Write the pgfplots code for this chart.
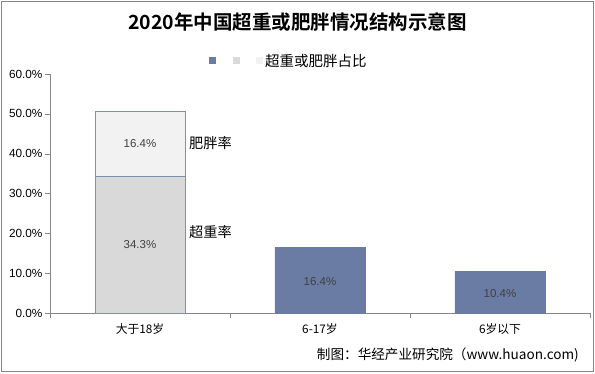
\documentclass[border=0pt]{standalone}
\usepackage{fontspec}
\setmainfont{Liberation Sans}
\newfontfamily\cjk{Noto Sans CJK SC}
\newfontfamily\cjkb{Noto Sans CJK SC Bold}
\usepackage{pgfplots}
\pgfplotsset{compat=1.18}
\definecolor{barblue}{HTML}{6A7CA3}
\definecolor{bargrey}{HTML}{D9D9D9}
\definecolor{barlight}{HTML}{F2F2F2}
\definecolor{edge}{HTML}{7F8FAE}
\definecolor{axisgrey}{HTML}{868686}
\definecolor{labgrey}{HTML}{404040}
\begin{document}
\begin{tikzpicture}[x=1pt,y=1pt]
\useasboundingbox (0,0) rectangle (595,373);
\draw[axisgrey, line width=0.8pt] (1.5,1.5) rectangle (593.5,371.5);
\begin{axis}[
  at={(50pt,60pt)}, anchor=south west,
  scale only axis, width=540pt, height=239pt,
  xmin=-0.5, xmax=2.5, ymin=0, ymax=60,
  axis lines=left, axis line style={axisgrey, -},
  xtick={0,1,2},
  xticklabels={大于18岁,6-17岁,6岁以下},
  x tick label style={font=\cjk\fontsize{11.8}{13}\selectfont, text=black, yshift=-2pt},
  major x tick style={draw=none},
  minor xtick={-0.5,0.5,1.5,2.5},
  minor x tick style={axisgrey},
  minor tick length=5pt,
  ytick={0,10,20,30,40,50,60},
  y tick style={axisgrey},
  major tick length=5pt,
  tick align=outside,
  yticklabel={\pgfmathprintnumber[fixed,fixed zerofill,precision=1]{\tick}\%},
  y tick label style={font=\fontsize{11.8}{13}\selectfont, text=black, /pgf/number format/assume math mode=true, xshift=1pt},
  ybar, bar shift=0pt, bar width=90pt,
  clip=false,
]
\addplot[fill=barlight, draw=edge] coordinates {(0,50.7)};
\addplot[fill=bargrey, draw=edge] coordinates {(0,34.3)};
\addplot[fill=barblue, draw=barblue] coordinates {(1,16.4) (2,10.4)};
\node[font=\fontsize{11.5}{13}\selectfont, text=labgrey] at (axis cs:0,42.5) {16.4\%};
\node[font=\fontsize{11.5}{13}\selectfont, text=labgrey] at (axis cs:0,17.1) {34.3\%};
\node[font=\fontsize{11.5}{13}\selectfont, text=labgrey] at (axis cs:1,8.0) {16.4\%};
\node[font=\fontsize{11.5}{13}\selectfont, text=labgrey] at (axis cs:2,5.0) {10.4\%};
\node[font=\cjk\fontsize{14.2}{15}\selectfont, anchor=west, inner sep=0pt] at (axis cs:0.272,42.7) {肥胖率};
\node[font=\cjk\fontsize{14.2}{15}\selectfont, anchor=west, inner sep=0pt] at (axis cs:0.272,20.3) {超重率};
\end{axis}
% title
\node[font=\cjkb\fontsize{19.5}{21}\selectfont] at (297.5,351) {2020年中国超重或肥胖情况结构示意图};
% legend
\fill[barblue] (208.5,308.5) rectangle (215.5,315.5);
\fill[bargrey] (232.5,308.5) rectangle (239.5,315.5);
\fill[barlight] (255.5,308.5) rectangle (262.5,315.5);
\node[font=\cjk\fontsize{14.5}{15}\selectfont, anchor=west, inner sep=0pt] at (265,312) {超重或肥胖占比};
% source
\node[font=\cjk\fontsize{13.6}{15}\selectfont, anchor=east, inner sep=0pt] at (579,18) {制图：华经产业研究院（www.huaon.com)};
\end{tikzpicture}
\end{document}
